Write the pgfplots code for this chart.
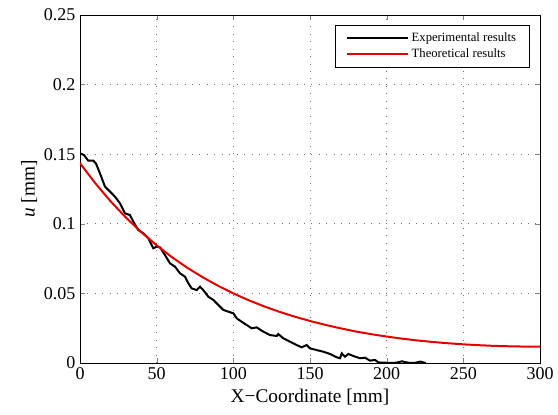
\documentclass[border=0pt]{standalone}
\usepackage{pgfplots}
\pgfplotsset{compat=1.18}
\usepackage{fontspec}
\setmainfont{Liberation Serif}

\pgfplotstableread{
x u
0.0 0.1506
2.6 0.1494
5.4 0.1453
8.7 0.1453
10.4 0.1434
13.0 0.1363
16.3 0.1267
19.6 0.1231
22.8 0.1195
26.1 0.1147
29.3 0.1075
32.6 0.1063
34.8 0.1015
38.0 0.0955
41.3 0.0932
44.6 0.0896
47.8 0.0824
50.0 0.0836
52.2 0.0831
55.4 0.0776
58.7 0.0716
62.0 0.0692
65.2 0.0644
68.5 0.0620
70.7 0.0572
72.8 0.0536
76.1 0.0524
78.3 0.0548
80.4 0.0524
83.7 0.0476
87.0 0.0453
89.1 0.0429
93.5 0.0381
96.7 0.0369
100.0 0.0357
102.2 0.0321
104.3 0.0305
108.7 0.0273
112.0 0.0249
115.2 0.0256
119.6 0.0225
123.9 0.0201
128.3 0.0194
129.3 0.0208
132.6 0.0177
137.0 0.0153
141.3 0.0129
144.6 0.0113
147.8 0.0129
150.0 0.0105
154.3 0.0093
158.7 0.0081
163.0 0.0065
167.4 0.0041
169.6 0.0034
170.7 0.0069
172.8 0.0045
175.0 0.0065
178.3 0.0050
182.6 0.0034
185.9 0.0038
189.1 0.0017
192.4 0.0022
194.6 0.0004
197.8 0.0003
202.0 0.0000
206.0 0.0002
210.0 0.0012
214.0 0.0002
218.0 0.0000
222.0 0.0010
225.5 0.0000
}\experimental

\pgfplotstableread{
x u
0 0.1435
10 0.1291
20 0.1161
30 0.1044
40 0.0940
50 0.0845
60 0.0760
70 0.0684
80 0.0616
90 0.0555
100 0.0500
110 0.0451
120 0.0407
130 0.0368
140 0.0333
150 0.0302
160 0.0274
170 0.0249
180 0.0226
190 0.0207
200 0.0190
210 0.0175
220 0.0162
230 0.0151
240 0.0142
250 0.0134
260 0.0128
270 0.0123
280 0.0120
290 0.0118
300 0.0117
}\theoretical

\begin{document}
\begin{tikzpicture}
\begin{axis}[
  scale only axis,
  width=345pt, height=261pt,
  xmin=0, xmax=300, ymin=0, ymax=0.25,
  xtick={0,50,100,150,200,250,300},
  ytick={0,0.05,0.1,0.15,0.2,0.25},
  yticklabels={0,0.05,0.1,0.15,0.2,0.25},
  /pgf/number format/assume math mode=true,
  tick align=inside,
  major tick length=4pt,
  tick label style={font=\fontsize{13.5}{16}\selectfont},
  label style={font=\fontsize{14.5}{17}\selectfont},
  xlabel={X−Coordinate [mm]},
  ylabel={\textit{u} [mm]},
  ylabel style={yshift=-2pt},
  grid=major,
  grid style={black!55, line width=0.6pt, dash pattern=on 0.6pt off 5pt},
  axis line style={black, line width=0.6pt},
  legend style={at={(0.978,0.971)}, anchor=north east,
    font=\fontsize{9.5}{11}\selectfont, draw=black, line width=0.6pt,
    row sep=0pt, inner ysep=3.5pt, inner xsep=8pt},
  legend cell align=left,
  legend image code/.code={\draw[#1] (0pt,0pt) -- (46pt,0pt);},
]
\addplot[black, line width=1.5pt] table {\experimental};
\addlegendentry{Experimental results}
\addplot[red!90!black, line width=1.5pt] table {\theoretical};
\addlegendentry{Theoretical results}
\end{axis}
\pgfresetboundingbox
\path[use as bounding box]
  ([shift={(-60pt,-38.25pt)}]current axis.south west) rectangle
  ([shift={(13.5pt,11.25pt)}]current axis.north east);
\end{tikzpicture}
\end{document}
